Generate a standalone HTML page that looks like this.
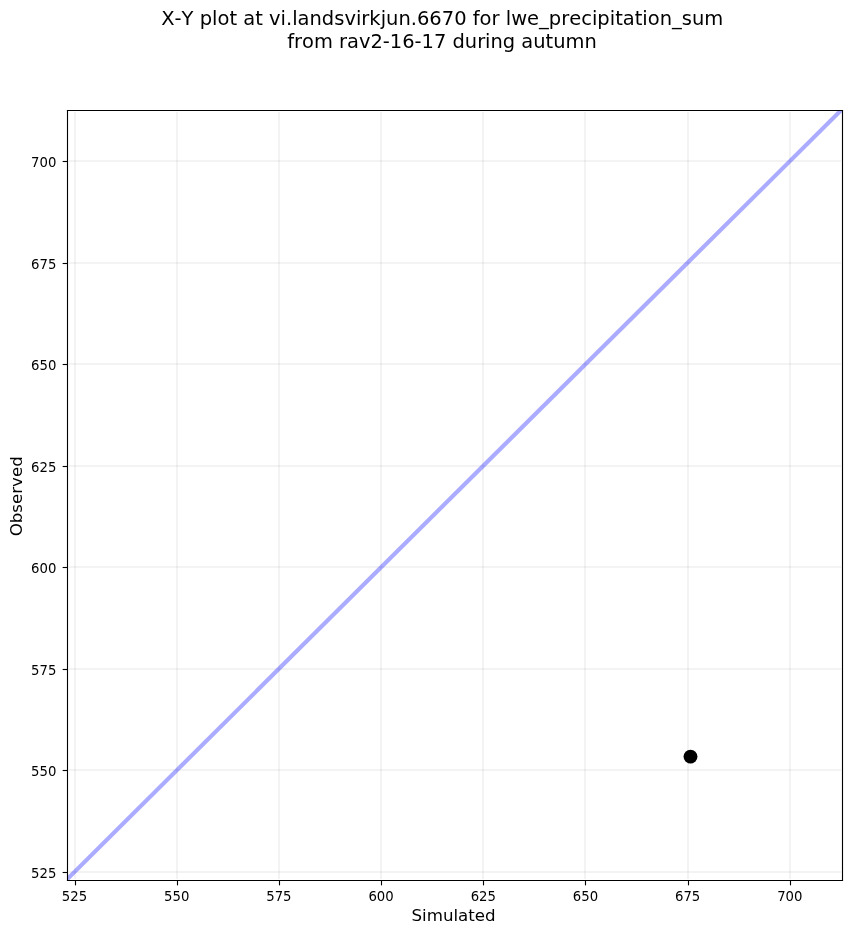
<!DOCTYPE html>
<html><head><meta charset="utf-8"><title>X-Y plot</title>
<style>html,body{margin:0;padding:0;background:#ffffff;width:851px;height:934px;overflow:hidden;}svg{display:block;will-change:transform;font-kerning:none;font-feature-settings:"kern" 0;}</style></head><body>
<svg width="851" height="934" viewBox="0 0 851 934">
<rect x="0" y="0" width="851" height="934" fill="#ffffff"/>
<g stroke="#b0b0b0" stroke-opacity="0.2" stroke-width="1.5" fill="none"><line x1="75" y1="112" x2="75" y2="879"/><line x1="177" y1="112" x2="177" y2="879"/><line x1="279" y1="112" x2="279" y2="879"/><line x1="381" y1="112" x2="381" y2="879"/><line x1="483" y1="112" x2="483" y2="879"/><line x1="585" y1="112" x2="585" y2="879"/><line x1="688" y1="112" x2="688" y2="879"/><line x1="790" y1="112" x2="790" y2="879"/><line x1="69" y1="872" x2="841" y2="872"/><line x1="69" y1="770" x2="841" y2="770"/><line x1="69" y1="669" x2="841" y2="669"/><line x1="69" y1="567" x2="841" y2="567"/><line x1="69" y1="466" x2="841" y2="466"/><line x1="69" y1="364" x2="841" y2="364"/><line x1="69" y1="263" x2="841" y2="263"/><line x1="69" y1="161" x2="841" y2="161"/></g>
<defs><clipPath id="ax"><rect x="67" y="110" width="776" height="771"/></clipPath></defs>
<line x1="59.506" y1="886.798" x2="848.694" y2="102.702" stroke="#0000ff" stroke-opacity="0.33" stroke-width="4.17" clip-path="url(#ax)"/>
<circle cx="690.5" cy="756.6" r="6.95" fill="#000000"/>
<g stroke="#000000" stroke-width="1.11" fill="none" stroke-linecap="square"><line x1="67.5" y1="110.5" x2="842.5" y2="110.5"/><line x1="67.5" y1="880.5" x2="842.5" y2="880.5"/><line x1="67.5" y1="110.5" x2="67.5" y2="880.5"/><line x1="842.5" y1="110.5" x2="842.5" y2="880.5"/></g>
<g stroke="#000000" stroke-width="1.11" fill="none"><line x1="75.5" y1="880.5" x2="75.5" y2="885.36"/><line x1="177.5" y1="880.5" x2="177.5" y2="885.36"/><line x1="279.5" y1="880.5" x2="279.5" y2="885.36"/><line x1="381.5" y1="880.5" x2="381.5" y2="885.36"/><line x1="483.5" y1="880.5" x2="483.5" y2="885.36"/><line x1="585.5" y1="880.5" x2="585.5" y2="885.36"/><line x1="688.5" y1="880.5" x2="688.5" y2="885.36"/><line x1="790.5" y1="880.5" x2="790.5" y2="885.36"/><line x1="62.64" y1="872.5" x2="67.5" y2="872.5"/><line x1="62.64" y1="770.5" x2="67.5" y2="770.5"/><line x1="62.64" y1="669.5" x2="67.5" y2="669.5"/><line x1="62.64" y1="567.5" x2="67.5" y2="567.5"/><line x1="62.64" y1="466.5" x2="67.5" y2="466.5"/><line x1="62.64" y1="364.5" x2="67.5" y2="364.5"/><line x1="62.64" y1="263.5" x2="67.5" y2="263.5"/><line x1="62.64" y1="161.5" x2="67.5" y2="161.5"/></g>
<g font-family="'DejaVu Sans', 'Liberation Sans', sans-serif" fill="#000000">
<text x="74.52" y="901" font-size="13.889" text-anchor="middle" textLength="25.3" lengthAdjust="spacingAndGlyphs">525</text>
<text x="176.71" y="901" font-size="13.889" text-anchor="middle" textLength="25.3" lengthAdjust="spacingAndGlyphs">550</text>
<text x="278.9" y="901" font-size="13.889" text-anchor="middle" textLength="25.3" lengthAdjust="spacingAndGlyphs">575</text>
<text x="381.09" y="901" font-size="13.889" text-anchor="middle" textLength="25.3" lengthAdjust="spacingAndGlyphs">600</text>
<text x="483.28" y="901" font-size="13.889" text-anchor="middle" textLength="25.3" lengthAdjust="spacingAndGlyphs">625</text>
<text x="585.47" y="901" font-size="13.889" text-anchor="middle" textLength="25.3" lengthAdjust="spacingAndGlyphs">650</text>
<text x="687.66" y="901" font-size="13.889" text-anchor="middle" textLength="25.3" lengthAdjust="spacingAndGlyphs">675</text>
<text x="789.85" y="901" font-size="13.889" text-anchor="middle" textLength="25.3" lengthAdjust="spacingAndGlyphs">700</text>
<text x="56.4" y="877.71" font-size="13.889" text-anchor="end" textLength="25.3" lengthAdjust="spacingAndGlyphs">525</text>
<text x="56.4" y="776.18" font-size="13.889" text-anchor="end" textLength="25.3" lengthAdjust="spacingAndGlyphs">550</text>
<text x="56.4" y="674.65" font-size="13.889" text-anchor="end" textLength="25.3" lengthAdjust="spacingAndGlyphs">575</text>
<text x="56.4" y="573.12" font-size="13.889" text-anchor="end" textLength="25.3" lengthAdjust="spacingAndGlyphs">600</text>
<text x="56.4" y="471.59" font-size="13.889" text-anchor="end" textLength="25.3" lengthAdjust="spacingAndGlyphs">625</text>
<text x="56.4" y="370.06" font-size="13.889" text-anchor="end" textLength="25.3" lengthAdjust="spacingAndGlyphs">650</text>
<text x="56.4" y="268.53" font-size="13.889" text-anchor="end" textLength="25.3" lengthAdjust="spacingAndGlyphs">675</text>
<text x="56.4" y="167" font-size="13.889" text-anchor="end" textLength="25.3" lengthAdjust="spacingAndGlyphs">700</text>
<text x="453.6" y="921" font-size="16.667" text-anchor="middle">Simulated</text>
<text transform="translate(22,496.3) rotate(-90)" x="0" y="0" font-size="16.667" text-anchor="middle">Observed</text>
<text x="442.25" y="25" font-size="19.444" text-anchor="middle" textLength="562.1" lengthAdjust="spacingAndGlyphs">X-Y plot at vi.landsvirkjun.6670 for lwe_precipitation_sum</text>
<text x="442" y="48" font-size="19.444" text-anchor="middle">from rav2-16-17 during autumn</text>
</g>
</svg>
</body></html>
